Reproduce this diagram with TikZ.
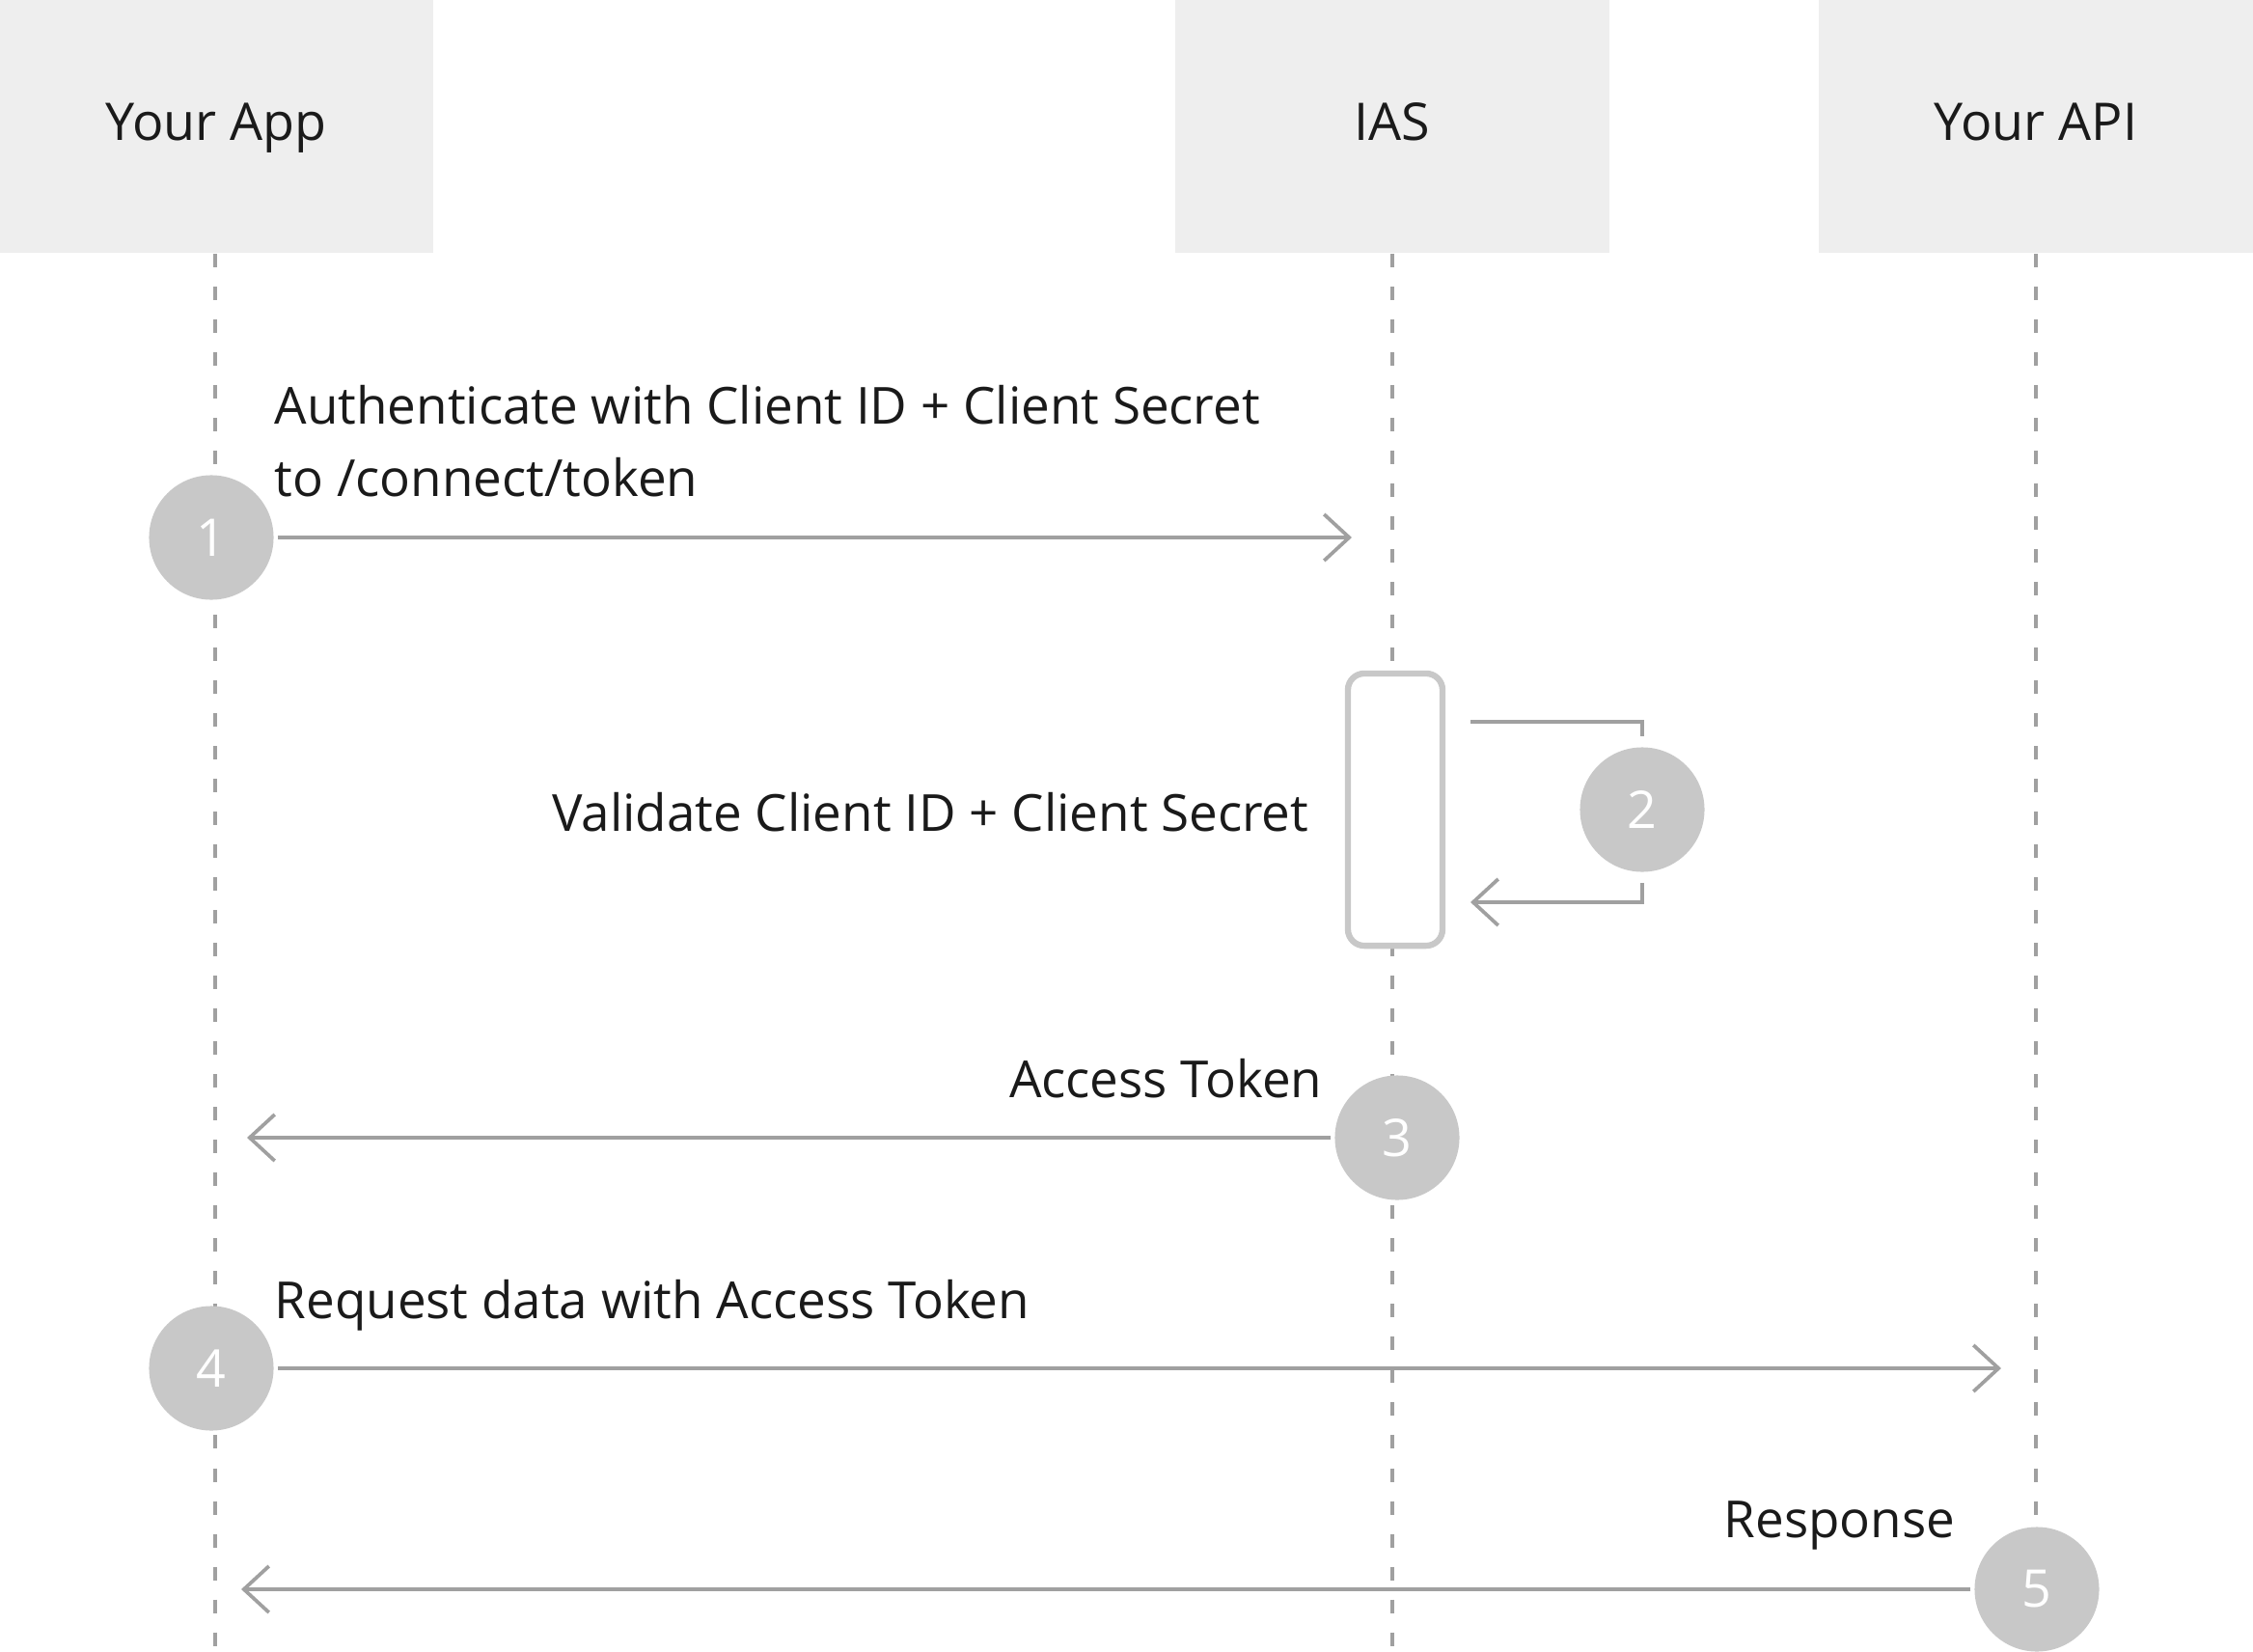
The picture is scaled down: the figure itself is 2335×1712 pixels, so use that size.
\documentclass[tikz,border=0pt]{standalone}
\usepackage{fontspec}
\setmainfont{Open Sans}
\usetikzlibrary{arrows.meta}
\definecolor{hdr}{HTML}{EEEEEE}
\definecolor{circ}{HTML}{C8C8C8}
\definecolor{ln}{HTML}{A0A0A0}
\definecolor{txt}{HTML}{1A1A1A}
\begin{document}
\begin{tikzpicture}[x=0.01cm,y=-0.01cm,
  header/.style={fill=hdr, draw=none, minimum width=4.49cm, minimum height=2.62cm, inner sep=0pt},
  lbl/.style={font=\fontsize{15.05pt}{18pt}\selectfont, text=txt, inner sep=0pt},
  hlbl/.style={font=\fontsize{15.3pt}{18pt}\selectfont, text=txt, inner sep=0pt},
  num/.style={circle, fill=circ, draw=none, minimum size=1.29cm, inner sep=0pt, text=white, font=\fontsize{15.3pt}{18pt}\selectfont},
  life/.style={draw=ln, line width=1.05pt, dash pattern=on 0.14cm off 0.20cm},
  msg/.style={draw=ln, line width=1.05pt, -{Straight Barb[length=0.26cm,width=0.48cm]}},
  plain/.style={draw=ln, line width=1.05pt},
  actbox/.style={draw=circ, fill=white, line width=1.8pt, rounded corners=0.17cm, minimum width=0.98cm, minimum height=2.82cm, inner sep=0pt}
]
\useasboundingbox (0,0) rectangle (2335,1712);
% headers
\node[header] (app) at (224,131) {};
\node[header] (ias) at (1443,131) {};
\node[header] (api) at (2110,131) {};
\node[hlbl, anchor=base] (appt) at (224,146) {Your App};
\node[hlbl, anchor=base] (iast) at (1443,146) {IAS};
\node[hlbl, anchor=base] (apit) at (2110,146) {Your API};
% lifeline ends
\coordinate (append) at (223,1706);
\coordinate (iasend) at (1443,1706);
\coordinate (apiend) at (2110,1706);
\draw[life] (app.south -| append) -- (append);
\draw[life] (ias.south -| iasend) -- (iasend);
\draw[life] (api.south -| apiend) -- (apiend);
% activation box
\node[actbox] (act) at (1446,839) {};
% circles
\node[num] (c1) at (219,557) {1};
\node[num] (c2) at (1702,839) {2};
\node[num] (c3) at (1448,1179) {3};
\node[num] (c4) at (219,1418) {4};
\node[num] (c5) at (2111,1647) {5};
% message 1
\coordinate (m1end) at (1401,557);
\draw[msg, shorten <=1pt] (c1) -- (m1end);
\node[lbl, anchor=base west] (t1a) at (284,439) {Authenticate with Client ID + Client Secret};
\node[lbl, anchor=base west] (t1b) at (284,514) {to /connect/token};
% self loop 2
\coordinate (l2a) at (1524,748);
\coordinate (l2b) at (1702,748);
\coordinate (l2c) at (1702,935);
\coordinate (l2d) at (1524,935);
\draw[plain] (l2a) -- (l2b) -- ([yshift=3pt]c2.north);
\draw[msg] ([yshift=-3pt]c2.south) -- (l2c) -- (l2d);
\node[lbl, anchor=base east] (t2) at (1357,861) {Validate Client ID + Client Secret};
% message 3
\coordinate (m3end) at (256,1179);
\draw[msg, shorten <=1pt] (c3) -- (m3end);
\node[lbl, anchor=base east] (t3) at (1371,1137) {Access Token};
% message 4
\coordinate (m4end) at (2074,1418);
\draw[msg, shorten <=1pt] (c4) -- (m4end);
\node[lbl, anchor=base west] (t4) at (284,1366) {Request data with Access Token};
% message 5
\coordinate (m5end) at (250,1647);
\draw[msg, shorten <=1pt] (c5) -- (m5end);
\node[lbl, anchor=base east] (t5) at (2027,1593) {Response};
\end{tikzpicture}
\end{document}
